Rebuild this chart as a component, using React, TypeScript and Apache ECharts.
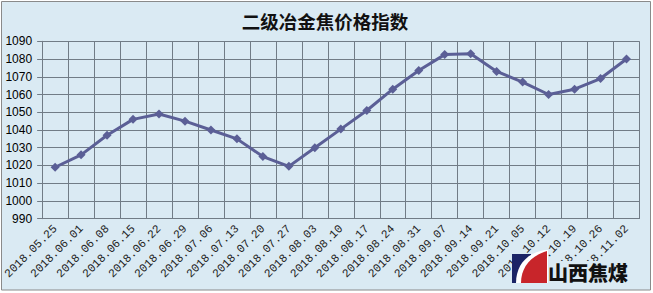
import React, { useEffect, useRef } from "react";
import * as echarts from "echarts";

const categories = [
  "2018.05.25", "2018.06.01", "2018.06.08", "2018.06.15", "2018.06.22", "2018.06.29",
  "2018.07.06", "2018.07.13", "2018.07.20", "2018.07.27", "2018.08.03", "2018.08.10",
  "2018.08.17", "2018.08.24", "2018.08.31", "2018.09.07", "2018.09.14", "2018.09.21",
  "2018.10.05", "2018.10.12", "2018.10.19", "2018.10.26", "2018.11.02",
];
const values = [
  1019, 1026, 1037, 1046, 1049, 1045, 1040, 1035, 1025, 1019.5, 1030, 1040.5,
  1051, 1063, 1073.5, 1082.5, 1083, 1073, 1067, 1060, 1063, 1069, 1080,
];
const titleText = "二级冶金焦价格指数";
const logoText = "山西焦煤";
const yMin = 990;
const yMax = 1090;
const yStep = 10;

const BG = "#DAEAF3";
const GRID = "#717C86";
const LINE = "#5B5F96";

echarts.graphic.registerShape(
  "logoRed",
  echarts.graphic.extendPath("M 9 33 C 9 18 18 6 35 1 L 35 33 Z", {})
);
echarts.graphic.registerShape(
  "logoWhite",
  echarts.graphic.extendPath("M 4 33 C 4 16 14 3 33 0 L 36 0 L 36 33 Z", {})
);

export default function App() {
  const ref = useRef<HTMLDivElement>(null);
  useEffect(() => {
    if (!ref.current) return;
    const chart = echarts.init(ref.current, undefined, { renderer: "svg" });
    chart.setOption({
      animation: false,
      backgroundColor: "#ffffff",
      title: {
        text: titleText,
        left: 320,
        top: 7,
        textAlign: "center",
        textStyle: {
          fontFamily: "Noto Sans CJK SC",
          fontWeight: "bold",
          fontSize: 18.5,
          color: "#111111",
        },
      },
      grid: { left: 40, right: 13.5, top: 41.3, bottom: 74.3, containLabel: false },
      xAxis: {
        type: "category",
        data: categories,
        boundaryGap: true,
        axisLine: { show: true, lineStyle: { color: GRID, width: 1 } },
        axisTick: { show: false },
        splitLine: { show: true, interval: 0, lineStyle: { color: GRID, width: 1 } },
        axisLabel: {
          interval: 0,
          rotate: 45,
          margin: 8,
          fontFamily: "Liberation Mono",
          fontSize: 11.5,
          color: "#222222",
        },
      },
      yAxis: {
        type: "value",
        min: yMin,
        max: yMax,
        interval: yStep,
        axisLine: { show: true, lineStyle: { color: GRID, width: 1 } },
        axisTick: { show: true, length: 5, lineStyle: { color: GRID } },
        splitLine: { show: true, lineStyle: { color: GRID, width: 1 } },
        axisLabel: {
          margin: 10,
          fontFamily: "Liberation Sans",
          fontSize: 12,
          color: "#000000",
          formatter: (v: number) => String(v),
        },
      },
      series: [
        {
          type: "line",
          data: values,
          symbol: "diamond",
          symbolSize: 9,
          lineStyle: { color: LINE, width: 3 },
          itemStyle: { color: LINE },
          z: 3,
        },
      ],
      graphic: [
        {
          type: "rect",
          z: -10,
          silent: true,
          shape: { x: 1.5, y: 1.5, width: 649, height: 288.5 },
          style: { fill: BG, stroke: "#8A8A8A", lineWidth: 1 },
        },
        {
          type: "rect",
          z: 50,
          silent: true,
          shape: { x: 546, y: 261, width: 86, height: 23 },
          style: { fill: BG },
        },
        {
          type: "rect",
          z: 50,
          silent: true,
          shape: { x: 512, y: 254, width: 19, height: 29 },
          style: { fill: "#1B2466" },
        },
        {
          type: "logoWhite",
          z: 51,
          silent: true,
          x: 512,
          y: 250,
          style: { fill: "#ffffff" },
        },
        {
          type: "logoRed",
          z: 52,
          silent: true,
          x: 512,
          y: 250,
          style: { fill: "#C8252A" },
        },
        {
          type: "text",
          z: 53,
          silent: true,
          x: 548,
          y: 272,
          style: {
            text: logoText,
            fontFamily: "Noto Sans CJK SC",
            fontWeight: 900,
            fontSize: 20,
            fill: "#111111",
            verticalAlign: "middle",
            align: "left",
          },
        },
      ],
    });
    return () => chart.dispose();
  }, []);
  return (
    <div
      ref={ref}
      style={{ position: "absolute", left: 0, top: 0, width: 653, height: 293 }}
    />
  );
}
